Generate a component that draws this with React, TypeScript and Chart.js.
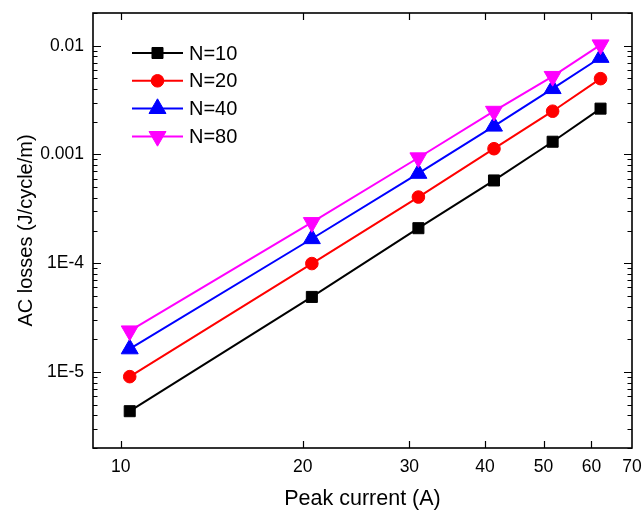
import React, { useEffect, useRef } from 'react';
import { Chart, registerables } from 'chart.js';
import { drawPoint } from 'chart.js/helpers';

Chart.register(...registerables);

// ---- data ----
const peakCurrent = [10.35, 20.7, 31.05, 41.4, 51.75, 62.1];
const lossN10 = [4.36e-6, 4.9e-5, 2.1e-4, 5.77e-4, 1.31e-3, 2.64e-3];
const lossN20 = [9.06e-6, 9.93e-5, 4.06e-4, 1.13e-3, 2.5e-3, 4.98e-3];
const lossN40 = [1.63e-5, 1.68e-4, 6.7e-4, 1.82e-3, 4.03e-3, 7.8e-3];
const lossN80 = [2.39e-5, 2.37e-4, 9.33e-4, 2.5e-3, 5.23e-3, 1.02e-2];
const seriesLabels = ['N=10', 'N=20', 'N=40', 'N=80'];
const xTickValues = [10, 20, 30, 40, 50, 60, 70];
const yTickValues = [1e-5, 1e-4, 1e-3, 1e-2];
const yTickLabels = ['1E-5', '1E-4', '0.001', '0.01'];
const xTitle = 'Peak current (A)';
const yTitle = 'AC losses (J/cycle/m)';

const FONT = "'Liberation Sans', Arial, sans-serif";

const styles = [
  { color: '#000000', pointStyle: 'rect', radius: 7.8, rotation: 0 },
  { color: '#ff0000', pointStyle: 'circle', radius: 6.3, rotation: 0 },
  { color: '#0000ff', pointStyle: 'triangle', radius: 9.8, rotation: 0 },
  { color: '#ff00ff', pointStyle: 'triangle', radius: 9.8, rotation: 180 },
];

const frameTicksPlugin = {
  id: 'frameTicks',
  afterDraw(chart: any) {
    const { ctx, chartArea: a, scales } = chart;
    const xs = scales.x;
    const ys = scales.y;
    ctx.save();
    ctx.strokeStyle = '#000';
    ctx.lineWidth = 1.2;
    ctx.beginPath();
    // x ticks (bottom & top), inward
    for (const v of xTickValues) {
      const px = Math.round(xs.getPixelForValue(v)) + 0.5;
      if (px < a.left + 1 || px > a.right - 1) continue;
      ctx.moveTo(px, a.bottom);
      ctx.lineTo(px, a.bottom - 7);
      ctx.moveTo(px, a.top);
      ctx.lineTo(px, a.top + 7);
    }
    // y ticks major & minor (left & right), inward
    for (let e = -7; e <= -1; e++) {
      for (let k = 1; k <= 9; k++) {
        const v = k * Math.pow(10, e);
        if (v < ys.min || v > ys.max) continue;
        const py = Math.round(ys.getPixelForValue(v)) + 0.5;
        const len = k === 1 ? 8 : 4.5;
        ctx.moveTo(a.left, py);
        ctx.lineTo(a.left + len, py);
        ctx.moveTo(a.right, py);
        ctx.lineTo(a.right - len, py);
      }
    }
    ctx.stroke();
    // frame
    ctx.lineWidth = 1.6;
    ctx.strokeRect(a.left, a.top, a.right - a.left, a.bottom - a.top);

    // legend
    const ds = chart.data.datasets;
    ctx.font = `20px ${FONT}`;
    ctx.textBaseline = 'middle';
    ctx.textAlign = 'left';
    ds.forEach((d: any, i: number) => {
      const y = 53 + i * 27.8;
      ctx.strokeStyle = d.borderColor;
      ctx.lineWidth = 2;
      ctx.beginPath();
      ctx.moveTo(132, y);
      ctx.lineTo(183, y);
      ctx.stroke();
      ctx.fillStyle = d.pointBackgroundColor;
      ctx.strokeStyle = d.pointBorderColor;
      ctx.lineWidth = 1;
      drawPoint(ctx, { pointStyle: d.pointStyle, rotation: d.pointRotation, radius: d.pointRadius, borderWidth: 1 }, 157.5, y);
      ctx.fillStyle = '#000';
      ctx.fillText(d.label, 189, y + 1);
    });
    ctx.restore();
  },
};

const zeroPad = (s: any) => {
  s.paddingLeft = 0;
  s.paddingRight = 0;
  s.paddingTop = 0;
  s.paddingBottom = 0;
};

export default function App() {
  const ref = useRef<HTMLCanvasElement | null>(null);
  useEffect(() => {
    if (!ref.current) return;
    const seriesValues = [lossN10, lossN20, lossN40, lossN80];
    const chart = new Chart(ref.current, {
      type: 'line',
      data: {
        datasets: seriesValues.map((vals, i) => ({
          label: seriesLabels[i],
          data: peakCurrent.map((x, j) => ({ x, y: vals[j] })),
          borderColor: styles[i].color,
          backgroundColor: styles[i].color,
          pointBackgroundColor: styles[i].color,
          pointBorderColor: styles[i].color,
          pointBorderWidth: 1,
          pointStyle: styles[i].pointStyle as any,
          pointRadius: styles[i].radius,
          pointRotation: styles[i].rotation,
          borderWidth: 2,
          tension: 0,
          order: 4 - i,
        })),
      },
      options: {
        animation: false,
        responsive: false,
        devicePixelRatio: 1,
        layout: { padding: { left: 0, right: 12, top: 13, bottom: 0 } },
        plugins: { legend: { display: false }, tooltip: { enabled: false } },
        scales: {
          x: {
            type: 'logarithmic',
            min: 9,
            max: 70,
            grid: { display: false, drawTicks: false },
            border: { display: false },
            afterBuildTicks: (s: any) => {
              s.ticks = xTickValues.map((v) => ({ value: v }));
            },
            afterFit: (s: any) => {
              s.height = 62;
              zeroPad(s);
            },
            ticks: {
              autoSkip: false,
              maxRotation: 0,
              minRotation: 0,
              padding: 9,
              color: '#000',
              font: { family: FONT, size: 17.5 },
              callback: (v: any) => String(v),
            },
            title: {
              display: true,
              text: xTitle,
              color: '#000',
              font: { family: FONT, size: 21.5 },
              padding: { top: 0, bottom: -2 },
            },
          },
          y: {
            type: 'logarithmic',
            min: 2e-6,
            max: 0.02,
            grid: { display: false, drawTicks: false },
            border: { display: false },
            afterBuildTicks: (s: any) => {
              s.ticks = yTickValues.map((v) => ({ value: v }));
            },
            afterFit: (s: any) => {
              s.width = 93;
              zeroPad(s);
            },
            ticks: {
              autoSkip: false,
              padding: 9,
              color: '#000',
              font: { family: FONT, size: 17.5 },
              callback: (v: any) => {
                const idx = yTickValues.findIndex((t) => Math.abs(t - v) / t < 1e-6);
                return idx >= 0 ? yTickLabels[idx] : '';
              },
            },
            title: {
              display: true,
              text: yTitle,
              color: '#000',
              font: { family: FONT, size: 20 },
              padding: { top: 14, bottom: 0 },
            },
          },
        },
      },
      plugins: [frameTicksPlugin],
    } as any);
    return () => chart.destroy();
  }, []);
  return (
    <div style={{ position: 'fixed', left: 0, top: 0, width: 644, height: 510, background: '#fff' }}>
      <canvas ref={ref} width={644} height={510} style={{ display: 'block' }} />
    </div>
  );
}
